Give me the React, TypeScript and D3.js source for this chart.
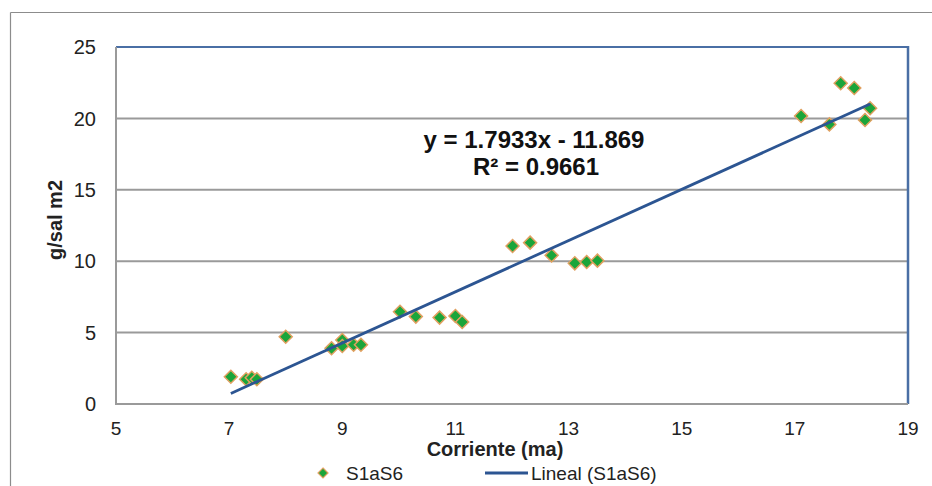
import React from "react";
import * as d3 from "d3";

const corriente = [7.03, 7.3, 7.4, 7.49, 8.0, 8.81, 9.0, 9.0, 9.2, 9.33, 10.02, 10.3, 10.72, 11.0, 11.12, 12.01, 12.32, 12.7, 13.11, 13.32, 13.51, 17.11, 17.61, 17.81, 18.05, 18.24, 18.33];
const gsal = [1.91, 1.73, 1.84, 1.73, 4.71, 3.9, 4.48, 4.06, 4.15, 4.15, 6.46, 6.12, 6.05, 6.16, 5.74, 11.06, 11.3, 10.41, 9.85, 9.94, 10.04, 20.17, 19.58, 22.46, 22.13, 19.89, 20.71];
const xTicks = [5, 7, 9, 11, 13, 15, 17, 19];
const yTicks = [0, 5, 10, 15, 20, 25];
const slope = 1.7933;
const intercept = -11.869;
const equationLabel = "y = 1.7933x - 11.869";
const r2Label = "R² = 0.9661";
const seriesName = "S1aS6";
const trendName = "Lineal (S1aS6)";
const xTitle = "Corriente (ma)";
const yTitle = "g/sal m2";

export default function App() {
  const W = 932, H = 486;
  const left = 116, right = 908, top = 47, bottom = 404;
  const x = d3.scaleLinear().domain([5, 19]).range([left, right]);
  const y = d3.scaleLinear().domain([0, 25]).range([bottom, top]);
  const xMin = d3.min(corriente) as number;
  const xMax = d3.max(corriente) as number;
  const trend = d3.line<number>().x((d) => x(d)).y((d) => y(slope * d + intercept));
  const diamond = (cx: number, cy: number, r: number) =>
    `M${cx},${cy - r}L${cx + r},${cy}L${cx},${cy + r}L${cx - r},${cy}Z`;
  const font = "Arial, 'Liberation Sans', sans-serif";
  return (
    <svg width={W} height={H} style={{ position: "absolute", left: 0, top: 0, background: "#fff" }} fontFamily={font}>
      <rect x={0} y={0} width={W} height={H} fill="#fff" />
      <line x1={10.5} y1={12.5} x2={W} y2={12.5} stroke="#8c8c8c" strokeWidth={1.2} />
      <line x1={10.5} y1={12.5} x2={10.5} y2={H} stroke="#8c8c8c" strokeWidth={1.2} />
      {yTicks.map((t) => (
        <g key={"y" + t}>
          {t > 0 && t < 25 && (
            <line x1={left} x2={right} y1={y(t)} y2={y(t)} stroke="#9a9a9a" strokeWidth={2} />
          )}
          <text x={96} y={y(t)} dy="0.36em" textAnchor="end" fontSize={20} fill="#222">{t}</text>
        </g>
      ))}
      {xTicks.map((t) => (
        <text key={"x" + t} x={x(t)} y={435} textAnchor="middle" fontSize={19} fill="#222">{t}</text>
      ))}
      <line x1={left} x2={right} y1={top} y2={top} stroke="#4a6fa5" strokeWidth={2} />
      <line x1={right} x2={right} y1={top - 1} y2={bottom} stroke="#4a6fa5" strokeWidth={2.5} />
      <line x1={left} x2={left} y1={top} y2={bottom} stroke="#9a9a9a" strokeWidth={2} />
      <line x1={left - 1} x2={right} y1={bottom} y2={bottom} stroke="#9a9a9a" strokeWidth={2} />
      {corriente.map((c, i) => (
        <path key={i} d={diamond(x(c), y(gsal[i]), 6.5)} fill="#1aa53a" stroke="#e0a060" strokeWidth={1.5} />
      ))}
      <path d={trend([xMin, xMax]) as string} stroke="#2c5592" strokeWidth={2.8} fill="none" />
      <text x={534} y={148} textAnchor="middle" fontSize={24} fontWeight="bold" fill="#111">{equationLabel}</text>
      <text x={536} y={175} textAnchor="middle" fontSize={24} fontWeight="bold" fill="#111">{r2Label}</text>
      <text x={495} y={456} textAnchor="middle" fontSize={20} fontWeight="bold" fill="#222">{xTitle}</text>
      <text transform={`translate(62,220) rotate(-90)`} textAnchor="middle" fontSize={20} fontWeight="bold" fill="#222">{yTitle}</text>
      <path d={diamond(323, 473, 5)} fill="#1aa53a" stroke="#e0a060" strokeWidth={1.2} />
      <text x={346} y={480} fontSize={19} fill="#222">{seriesName}</text>
      <line x1={485} x2={528} y1={473} y2={473} stroke="#2c5592" strokeWidth={2.8} />
      <text x={531} y={480} fontSize={19} fill="#222">{trendName}</text>
    </svg>
  );
}
